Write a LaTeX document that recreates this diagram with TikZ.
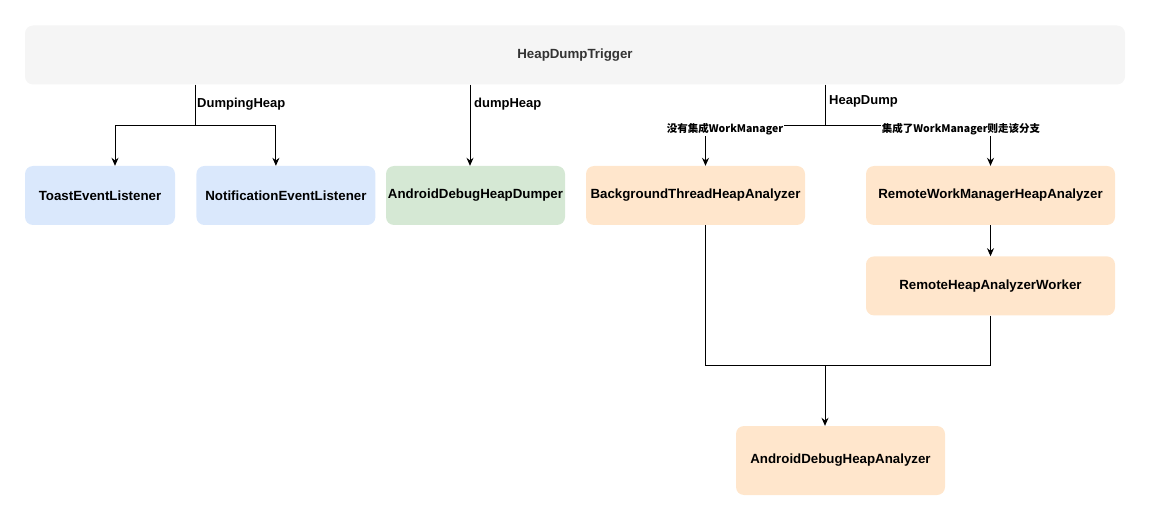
\documentclass[tikz,border=0pt]{standalone}
\usepackage{fontspec}
\setmainfont{Liberation Sans}
\newfontfamily\cjkfont{Noto Sans CJK SC}
\usepackage{xcolor}
\definecolor{triggergray}{HTML}{F5F5F5}
\definecolor{listenerblue}{HTML}{DAE8FC}
\definecolor{dumpergreen}{HTML}{D5E8D4}
\definecolor{analyzerorange}{HTML}{FFE6CC}
\definecolor{textgray}{HTML}{333333}
\usepackage{tikz}
\usetikzlibrary{arrows.meta,positioning}

\begin{document}
\begin{tikzpicture}[x=1pt,y=-1pt,
    box/.style={
        rectangle, rounded corners=8pt, minimum height=59pt, inner sep=0pt,
        font=\bfseries\fontsize{13.3}{16}\selectfont
    },
    flow/.style={-{Stealth[length=8pt,width=7pt]}, line width=0.9pt},
    linklabel/.style={font=\bfseries\fontsize{13}{15}\selectfont, inner sep=1pt, anchor=west},
    branchlabel/.style={font=\cjkfont\bfseries\fontsize{10.5}{12}\selectfont, fill=white, inner sep=1pt}
]
    \useasboundingbox (0,0) rectangle (1151,521);

    % Trigger
    \node[box,fill=triggergray,minimum width=1100pt,text=textgray] (trigger) at (575,55) {HeapDumpTrigger};

    % Second row
    \node[box,fill=listenerblue,minimum width=150pt] (toast) at (100,195.5) {ToastEventListener};
    \node[box,fill=listenerblue,minimum width=179pt,right=21pt of toast] (notif) {NotificationEventListener};
    \node[box,fill=dumpergreen,minimum width=179pt] (dumper) at (475.5,195.5) {AndroidDebugHeapDumper};
    \node[box,fill=analyzerorange,minimum width=219pt] (bganalyzer) at (695.5,195.5) {BackgroundThreadHeapAnalyzer};
    \node[box,fill=analyzerorange,minimum width=249pt] (remote) at (990.5,195.5) {RemoteWorkManagerHeapAnalyzer};
    \node[box,fill=analyzerorange,minimum width=249pt,below=31pt of remote] (worker) {RemoteHeapAnalyzerWorker};
    \node[box,fill=analyzerorange,minimum width=209pt,minimum height=69pt] (final) at (840.5,460.5) {AndroidDebugHeapAnalyzer};

    % Branch points
    \coordinate (dsplit) at (195,125);
    \coordinate (hsplit) at (825,125);
    \coordinate (merge) at (825,365);

    % DumpingHeap
    \draw[line width=0.9pt] (trigger.south -| dsplit) -- (dsplit);
    \draw[flow] (dsplit) -| ([xshift=15pt]toast.north);
    \draw[flow] (dsplit) -| ([xshift=-10pt]notif.north);
    \node[linklabel] (dlabel) at (196,104) {DumpingHeap};

    % dumpHeap
    \draw[flow] (trigger.south -| 470,0) -- (dumper.north -| 470,0);
    \node[linklabel] (dhlabel) at (473,104) {dumpHeap};

    % HeapDump
    \draw[line width=0.9pt] (trigger.south -| hsplit) -- (hsplit);
    \draw[flow] (hsplit) -| ([xshift=10pt]bganalyzer.north);
    \draw[flow] (hsplit) -| (remote.north);
    \node[linklabel] (hlabel) at (828,101) {HeapDump};
    \node[branchlabel] (nowm) at (725,129) {没有集成WorkManager};
    \node[branchlabel] (withwm) at (961,129) {集成了WorkManager则走该分支};
    \draw[flow] (remote) -- (worker);

    % Merge
    \draw[line width=0.9pt] ([xshift=10pt]bganalyzer.south) |- (merge);
    \draw[line width=0.9pt] (worker.south) |- (merge);
    \draw[flow] (merge) -- (final.north -| merge);
\end{tikzpicture}
\end{document}
